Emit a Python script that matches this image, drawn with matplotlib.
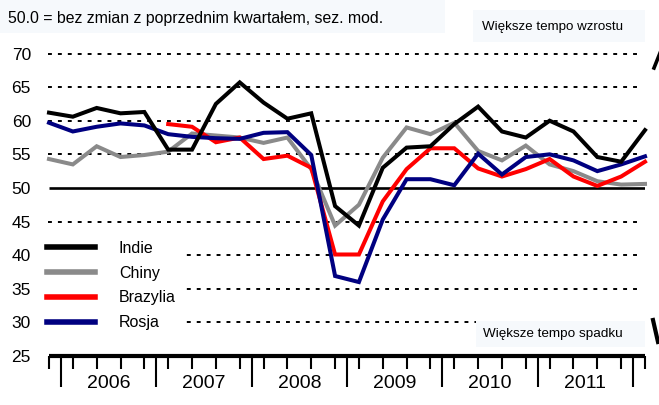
import numpy as np
import matplotlib
matplotlib.use("Agg")
import matplotlib.pyplot as plt
from matplotlib.patches import Rectangle
from matplotlib.lines import Line2D

plt.rcParams['font.family'] = ['Liberation Sans', 'DejaVu Sans']

# ---- data (quarterly, 2005Q4 .. 2012Q1) ----
quarters = list(range(26))
indie = [61.2, 60.6, 61.9, 61.1, 61.3, 55.7, 55.7, 62.5, 65.7, 62.7, 60.3, 61.1, 47.3,
         44.4, 53.0, 56.0, 56.2, 59.5, 62.1, 58.4, 57.5, 60.0, 58.4, 54.6, 53.9, 58.6]
chiny = [54.3, 53.5, 56.2, 54.6, 54.9, 55.4, 58.1, 57.8, 57.5, 56.7, 57.5, 52.8, 44.4,
         47.5, 54.5, 59.0, 58.0, 59.7, 55.5, 54.1, 56.3, 53.5, 52.5, 51.0, 50.5, 50.6]
brazylia = [np.nan] * 5 + [59.5, 59.1, 56.8, 57.5, 54.3, 54.8, 53.0, 40.1, 40.1, 48.0,
                           52.8, 55.9, 55.9, 52.9, 51.7, 52.8, 54.3, 51.7, 50.3, 51.7, 53.9]
rosja = [59.7, 58.4, 59.1, 59.6, 59.3, 58.0, 57.6, 57.4, 57.3, 58.2, 58.3, 54.9, 36.9,
         36.0, 45.3, 51.3, 51.3, 50.4, 55.1, 52.0, 54.6, 55.0, 54.1, 52.5, 53.5, 54.7]
years = ['2006', '2007', '2008', '2009', '2010', '2011']
yticks = [25, 30, 35, 40, 45, 50, 55, 60, 65, 70]
dashed_levels = [30, 35, 40, 45, 55, 60, 65, 70]

W, H = 659, 405
fig = plt.figure(figsize=(W / 100, H / 100), dpi=100)
fig.patch.set_facecolor('white')

def fx(px):
    return px / W

def fy(py):
    return 1 - py / H

ax = fig.add_axes([fx(49), fy(356), fx(645) - fx(49), fy(53.5) - fy(356)])
ax.set_xlim(0, 25)
ax.set_ylim(25, 70)
for s in ['top', 'right', 'left']:
    ax.spines[s].set_visible(False)
ax.spines['bottom'].set_linewidth(3.0)
ax.spines['bottom'].set_capstyle('butt')

# gridlines
for lv in dashed_levels:
    ax.plot([-0.05, 24.9], [lv, lv], color='black', lw=1.4,
            linestyle=(0, (2.0, 3.1)), zorder=1, clip_on=False)
ax.plot([0, 25], [50, 50], color='black', lw=1.9, zorder=2, solid_capstyle='butt')

# series
series = [('Chiny', chiny, '#8a8a8a'), ('Brazylia', brazylia, '#ff0000'),
          ('Rosja', rosja, '#000080'), ('Indie', indie, '#000000')]
for name, vals, col in series:
    ax.plot(quarters, vals, color=col, lw=2.9, zorder=4, clip_on=False,
            solid_joinstyle='miter')

# y ticks
ax.set_yticks(yticks)
ax.set_yticklabels([str(v) for v in yticks], fontsize=12.5)
ax.tick_params(axis='y', length=0, pad=13)

# x ticks
ax.set_xticks([0.5 + 4 * i for i in range(7)])
ax.set_xticklabels([])
ax.set_xticks(quarters, minor=True)
ax.tick_params(axis='x', which='major', length=22, width=1.5, direction='out', color='black')
ax.tick_params(axis='x', which='minor', length=9.5, width=1.5, direction='out', color='black')

for i, y in enumerate(years):
    ax.text(2.5 + 4 * i, -0.092, y, transform=ax.get_xaxis_transform(),
            ha='center', va='center', fontsize=14)

# legend background box and legend
fig.patches.append(Rectangle((fx(40), fy(338)), fx(181) - fx(40), fy(233) - fy(338),
                             transform=fig.transFigure, facecolor='white',
                             edgecolor='none', zorder=3))
handles = [Line2D([], [], color=c, lw=4.0) for _, _, c in
           [series[3], series[0], series[1], series[2]]]
labels = ['Indie', 'Chiny', 'Brazylia', 'Rosja']
leg = fig.legend(handles, labels, loc='center left',
                 bbox_to_anchor=(fx(47), fy(285.5)), bbox_transform=fig.transFigure,
                 frameon=False, fontsize=11.5, handlelength=3.0, handletextpad=1.5,
                 labelspacing=0.62, borderpad=0, borderaxespad=0)
leg.set_zorder(5)

# annotation boxes
bg = '#f6f9fc'
fig.patches.append(Rectangle((0, fy(33)), fx(445), fy(0) - fy(33), transform=fig.transFigure,
                             facecolor=bg, edgecolor='none', zorder=0))
fig.text(fx(8), fy(18), '50.0 = bez zmian z poprzednim kwartałem, sez. mod.',
         ha='left', va='center', fontsize=11.4)

fig.patches.append(Rectangle((fx(473), fy(42)), fx(645) - fx(473), fy(10) - fy(42),
                             transform=fig.transFigure, facecolor=bg, edgecolor='none', zorder=0))
fig.text(fx(482), fy(27), 'Większe tempo wzrostu', ha='left', va='center', fontsize=9.6)

fig.patches.append(Rectangle((fx(476), fy(347)), fx(645) - fx(476), fy(321) - fy(347),
                             transform=fig.transFigure, facecolor=bg, edgecolor='none', zorder=3))
fig.text(fx(483), fy(334), 'Większe tempo spadku', ha='left', va='center', fontsize=9.7,
         zorder=6)

# partially visible arrows at the right edge
fig.lines.append(Line2D([fx(654), fx(660)], [fy(68), fy(53)], transform=fig.transFigure,
                        color='black', lw=2.6))
fig.lines.append(Line2D([fx(653), fx(658)], [fy(320), fy(342)], transform=fig.transFigure,
                        color='black', lw=3.0))

fig.savefig('out.png', dpi=100)
